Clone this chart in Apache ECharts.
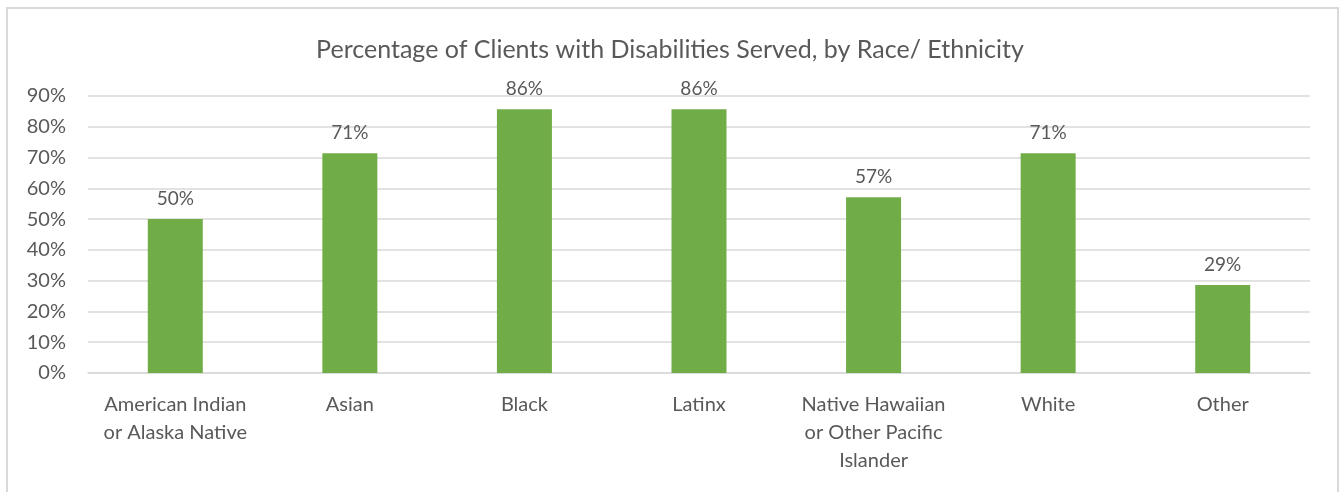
<!DOCTYPE html>
<html>
<head>
<meta charset="utf-8">
<script src="https://cdn.jsdelivr.net/npm/echarts@6/dist/echarts.min.js"></script>
<style>
  html, body { margin: 0; padding: 0; background: #fff; }
  #chart { width: 1340px; height: 492px; }
</style>
</head>
<body>
<div id="chart"></div>
<script>
const FONT = 'Lato, "Open Sans", sans-serif';
const TEXT = "#595959";
const GRID = "#d9d9d9";
const GREEN = "#70AD47";

const categories = [
  "American Indian\nor Alaska Native",
  "Asian",
  "Black",
  "Latinx",
  "Native Hawaiian\nor Other Pacific\nIslander",
  "White",
  "Other"
];
const percentServed = [50, 71.4, 85.7, 85.7, 57.1, 71.4, 28.6];

const chart = echarts.init(document.getElementById("chart"), null, { renderer: "canvas" });

chart.setOption({
  backgroundColor: "#fff",
  animation: false,
  title: {
    text: "Percentage of Clients with Disabilities Served, by Race/ Ethnicity",
    left: "center",
    top: 32,
    textStyle: { color: TEXT, fontSize: 25, fontWeight: "normal", fontFamily: FONT }
  },
  graphic: [{
    type: "rect",
    shape: { x: 7, y: 8, width: 1331, height: 500 },
    style: { fill: "none", stroke: GRID, lineWidth: 2 },
    silent: true
  }],
  grid: { left: 88, right: 30, top: 96, bottom: 119, containLabel: false },
  xAxis: {
    type: "category",
    data: categories,
    axisLine: { lineStyle: { color: GRID, width: 1.5 } },
    axisTick: { show: false },
    axisLabel: {
      color: TEXT, fontSize: 20, fontFamily: FONT,
      lineHeight: 28, margin: 18, interval: 0
    }
  },
  yAxis: {
    type: "value",
    min: 0,
    max: 90,
    interval: 10,
    axisLine: { show: false },
    axisTick: { show: false },
    axisLabel: {
      color: TEXT, fontSize: 20, fontFamily: FONT, margin: 22,
      formatter: (v) => v + "%"
    },
    splitLine: { lineStyle: { color: GRID, width: 1.5 } }
  },
  series: [{
    type: "bar",
    data: percentServed,
    barWidth: 55,
    itemStyle: { color: GREEN },
    label: {
      show: true,
      position: "top",
      distance: 11,
      color: TEXT,
      fontSize: 19,
      fontFamily: FONT,
      formatter: (p) => Math.round(p.value) + "%"
    }
  }]
});
</script>
</body>
</html>
